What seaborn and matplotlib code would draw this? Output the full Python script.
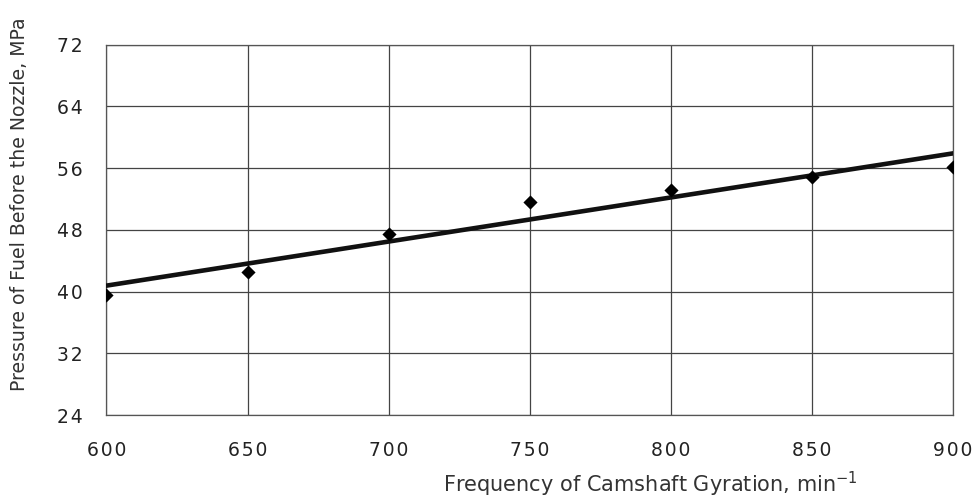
import matplotlib
matplotlib.use("Agg")
import matplotlib.pyplot as plt
import seaborn as sns
import numpy as np
import pandas as pd

frequency = [600, 650, 700, 750, 800, 850, 900]
pressure = [39.6, 42.6, 47.4, 51.6, 53.2, 54.8, 56.2]
x_ticks = [600, 650, 700, 750, 800, 850, 900]
y_ticks = [24, 32, 40, 48, 56, 64, 72]

df = pd.DataFrame({"freq": frequency, "pressure": pressure})

sns.set_style("white")
plt.rcParams['font.family'] = ['DejaVu Sans']

fig = plt.figure(figsize=(9.75, 4.99), dpi=100)
ax = fig.add_axes([0.1092, 0.1683, 0.9774 - 0.1092, 0.9104 - 0.1683])

sns.regplot(data=df, x="freq", y="pressure", ax=ax, ci=None, truncate=False,
            marker="D", color="black",
            scatter_kws=dict(s=52, color="black", zorder=4, linewidths=0, alpha=1),
            line_kws=dict(color="#111111", linewidth=3.3, zorder=3))

def spaced(v):
    return "\u200a".join(str(v))

ax.set_xlim(600, 900)
ax.set_ylim(24, 72)
ax.set_xticks(x_ticks)
ax.set_xticklabels([spaced(v) for v in x_ticks])
ax.set_yticks(y_ticks)
ax.set_yticklabels([spaced(v) for v in y_ticks])
ax.grid(True, color="#444444", linewidth=0.9)
ax.set_axisbelow(True)
for s in ax.spines.values():
    s.set_color("#555555")
    s.set_linewidth(0.9)
ax.tick_params(axis="both", length=0, labelsize=13.5, colors="#222222")
ax.tick_params(axis="x", pad=19)
ax.tick_params(axis="y", pad=17)

ax.set_xlabel("Frequency of Camshaft Gyration, min$^{-1}$", fontsize=15, color="#333333")
ax.xaxis.set_label_coords((858 - 106.5) / 846.5, -0.147)
ax.xaxis.label.set_ha("right")
ax.set_ylabel("Pressure of Fuel Before the Nozzle, MPa", fontsize=13.6, color="#333333")
ax.yaxis.set_label_coords(-0.092, 0.57)

fig.savefig("out.png", dpi=100)
